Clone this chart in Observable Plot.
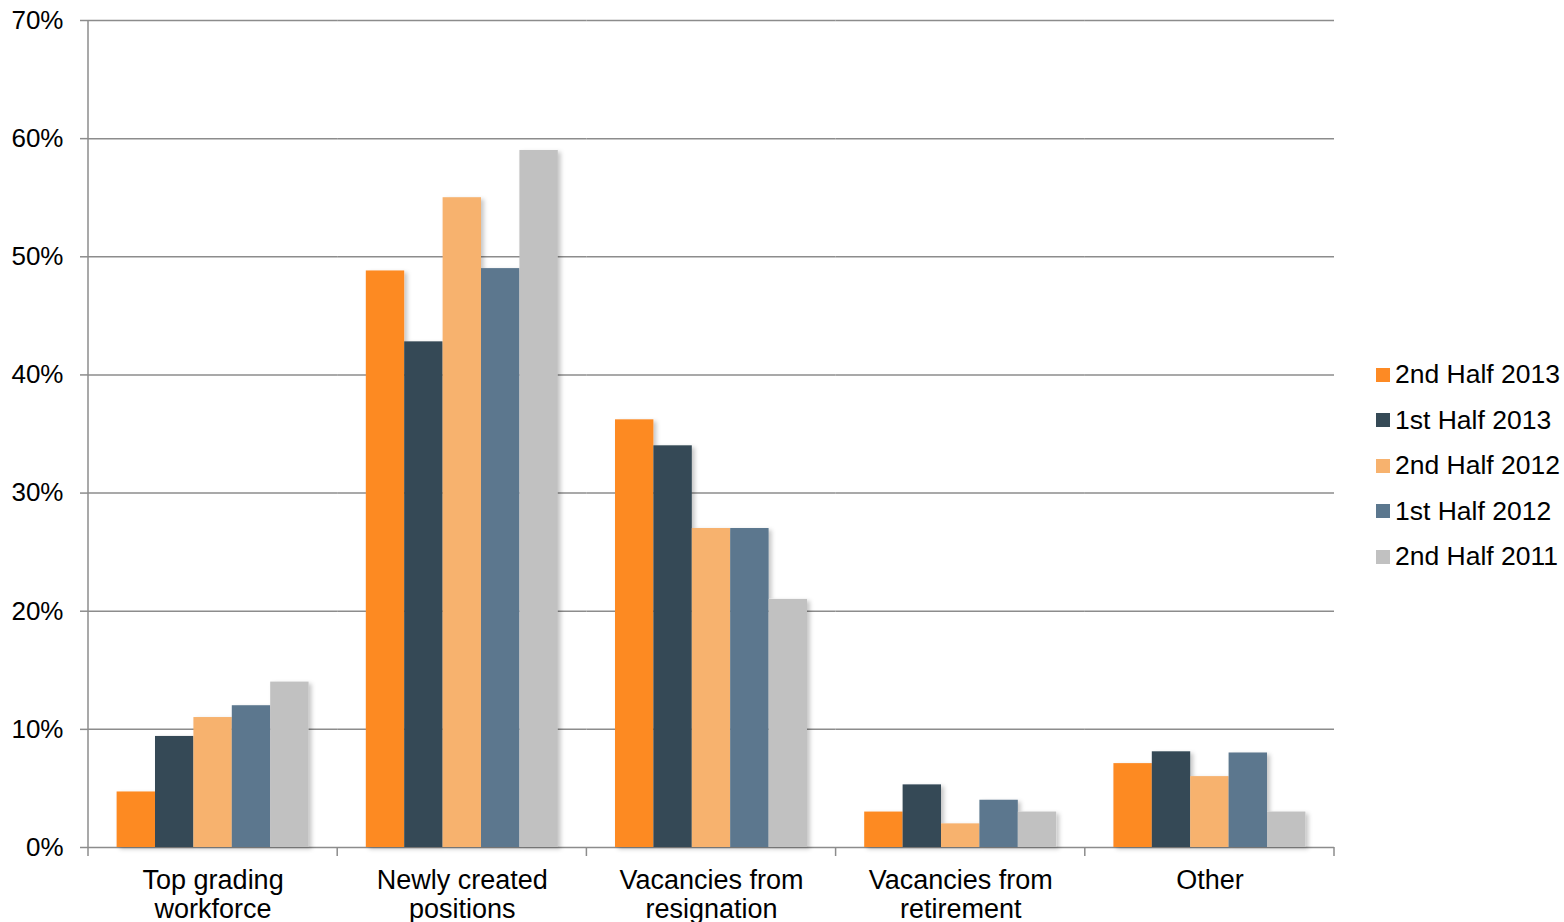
<!DOCTYPE html>
<html>
<head>
<meta charset="utf-8">
<script src="https://cdn.jsdelivr.net/npm/d3@7"></script>
<script src="https://cdn.jsdelivr.net/npm/@observablehq/plot@0.6"></script>
<style>
  html, body { margin: 0; padding: 0; background: #fff; }
  #wrap { position: relative; width: 1564px; height: 922px; overflow: hidden; font-family: "Liberation Sans", Arial, sans-serif; }
  #legend { position: absolute; left: 1376px; top: 352px; }
  .lg-row { display: flex; align-items: center; height: 45.5px; font-size: 26.5px; color: #000; white-space: nowrap; }
  .lg-sw { width: 14px; height: 14px; margin-right: 5px; flex: none; }
  svg [aria-label^="y-axis"] line, svg [aria-label^="y-axis"] path { stroke: #8c8c8c; stroke-width: 1.5; }
  svg [aria-label^="y-axis"] text { fill: #000; }
</style>
</head>
<body>
<div id="wrap"><div id="legend"></div></div>
<script>
const categories = ["Top grading workforce", "Newly created positions", "Vacancies from resignation", "Vacancies from retirement", "Other"];
const categoryLabels = ["Top grading\nworkforce", "Newly created\npositions", "Vacancies from\nresignation", "Vacancies from\nretirement", "Other"];
const series = ["2nd Half 2013", "1st Half 2013", "2nd Half 2012", "1st Half 2012", "2nd Half 2011"];
const colors = ["#fd8a24", "#354a56", "#f7b26e", "#5b778e", "#c1c1c1"];
const yTicks = [0, 10, 20, 30, 40, 50, 60, 70];

const s2H2013 = [4.7, 48.8, 36.2, 3.0, 7.1];
const s1H2013 = [9.4, 42.8, 34.0, 5.3, 8.1];
const s2H2012 = [11.0, 55.0, 27.0, 2.0, 6.0];
const s1H2012 = [12.0, 49.0, 27.0, 4.0, 8.0];
const s2H2011 = [14.0, 59.0, 21.0, 3.0, 3.0];
const seriesValues = [s2H2013, s1H2013, s2H2012, s1H2012, s2H2011];

const rows = [];
categories.forEach((c, ci) => {
  series.forEach((s, si) => {
    rows.push({category: c, label: categoryLabels[ci], series: s, value: seriesValues[si][ci]});
  });
});

const plot = Plot.plot({
  width: 1564,
  height: 922,
  marginLeft: 88,
  marginRight: 230,
  marginTop: 20,
  marginBottom: 75,
  style: {fontFamily: "'Liberation Sans', Arial, sans-serif", fontSize: "26px", color: "#000", background: "transparent"},
  facet: {data: rows, x: "category"},
  fx: {domain: categories, padding: 0, round: false, axis: null, label: null},
  x: {domain: series, paddingInner: 0, paddingOuter: 0.745, round: false, axis: null, label: null},
  y: {domain: [0, 70], ticks: yTicks, tickFormat: d => d + "%", tickSize: 8, tickPadding: 17, label: null},
  color: {domain: series, range: colors},
  marks: [
    Plot.ruleY(yTicks, {stroke: "#8c8c8c", strokeWidth: 1.5}),
    Plot.barY(rows, {x: "series", y: "value", fill: "series"}),
    Plot.text(rows, {
      filter: d => d.series === series[0],
      text: "label",
      frameAnchor: "bottom",
      lineAnchor: "top",
      dy: 20,
      fontSize: 27,
      lineHeight: 1.1,
      fill: "#000"
    })
  ]
});

document.getElementById("wrap").prepend(plot);

// soft shadow on the bars
const svg = d3.select(plot);
const defs = svg.insert("defs", ":first-child");
const f = defs.append("filter").attr("id", "barShadow").attr("x", "-20%").attr("y", "-20%").attr("width", "140%").attr("height", "140%");
f.append("feDropShadow").attr("dx", 3).attr("dy", 2).attr("stdDeviation", 2).attr("flood-color", "#000").attr("flood-opacity", 0.22);
svg.selectAll('g[aria-label="bar"]').attr("filter", "url(#barShadow)");

// axis lines and category boundary ticks, positioned with the plot's own scales
const fxs = plot.scale("fx");
const ys = plot.scale("y");
const band = d3.scaleBand().domain(fxs.domain).range(fxs.range).paddingInner(0).paddingOuter(0);
const bounds = fxs.domain.map(c => band(c)).concat([band(fxs.domain[fxs.domain.length - 1]) + band.bandwidth()]);
const y0 = Math.max(...ys.range);
const yTop = Math.min(...ys.range);
const ax = svg.append("g").attr("stroke", "#8c8c8c").attr("stroke-width", 1.5);
ax.append("line").attr("x1", bounds[0]).attr("x2", bounds[0]).attr("y1", yTop).attr("y2", y0);
ax.selectAll("line.bt").data(bounds).join("line").attr("class", "bt")
  .attr("x1", d => d).attr("x2", d => d).attr("y1", y0).attr("y2", y0 + 9);

// legend
const lg = d3.select("#legend");
series.forEach((s, i) => {
  const r = lg.append("div").attr("class", "lg-row");
  r.append("div").attr("class", "lg-sw").style("background", colors[i]);
  r.append("span").text(s);
});
</script>
</body>
</html>
